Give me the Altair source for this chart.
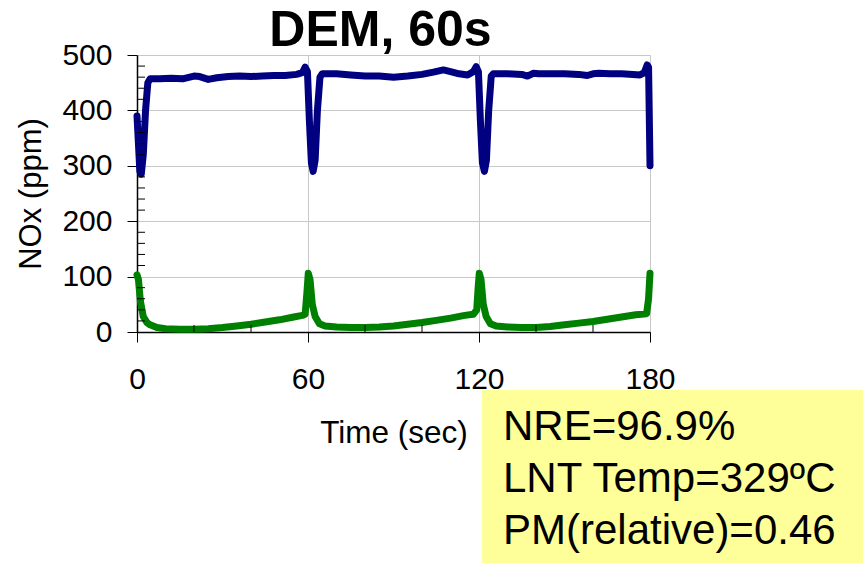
import altair as alt
import pandas as pd

# ---- data ----
in_t = [0, 0.5, 1.0, 1.5, 2.2, 3.0, 3.8, 4.6, 8, 12, 16, 20, 22, 25, 28, 32, 36, 40, 44, 48, 52, 56, 58, 59,
        59.8, 60.5, 61.2, 61.8, 62.5, 63.3, 64.2, 65, 70, 75, 80, 85, 90, 95, 100, 104, 107.5, 110, 113, 116,
        118, 119, 119.8, 120.5, 121.2, 121.9, 122.6, 123.4, 124.3, 125, 130, 135, 137, 139, 141, 145, 150,
        155, 158, 160, 162, 166, 170, 174, 176.5, 178, 179, 179.5, 180]
in_v = [390, 340, 290, 285, 320, 400, 450, 457, 457, 458, 457, 462, 461, 456, 459, 461, 462, 461, 462, 463, 463, 465, 468, 478,
        470, 380, 305, 290, 310, 400, 460, 466, 466, 464, 462, 462, 460, 462, 465, 469, 473, 470, 466, 464,
        470, 479, 470, 380, 305, 290, 310, 400, 462, 466, 466, 465, 462, 467, 466, 466, 466,
        465, 463, 466, 467, 466, 466, 465, 464, 468, 482, 478, 300]

out_t = [0, 0.5, 1.2, 2.2, 3.5, 4.6, 7, 10, 15, 20, 25, 30, 35, 40, 45, 50, 55, 58, 59, 59.6, 60.1, 60.7, 61.5,
         62.5, 64, 66, 70, 75, 80, 85, 90, 95, 100, 105, 110, 115, 118, 119.2, 119.7, 120.1, 120.7, 121.5, 122.5,
         124, 126, 130, 135, 140, 145, 150, 155, 160, 165, 170, 175, 178.8, 179.5, 180]
out_v = [103, 95, 55, 28, 17, 13, 8, 6, 5, 5, 6, 8, 11, 14, 18, 22, 27, 30, 32, 70, 106, 95, 50,
         28, 15, 11, 9, 8, 8, 9, 11, 14, 17, 21, 25, 30, 32, 40, 80, 106, 95, 50, 28,
         15, 11, 9, 8, 8, 10, 13, 16, 19, 23, 27, 31, 33, 60, 106]

series_names = ["NOx in", "NOx out"]
series_colors = ["#000080", "#008000"]

x_major = [0, 60, 120, 180]
y_major = [0, 100, 200, 300, 400, 500]
x_minor = [20, 40, 80, 100, 140, 160]
y_minor = [v for v in range(20, 500, 20) if v % 100 != 0]

chart_title = "DEM, 60s"
annotation = ["NRE=96.9%", "LNT Temp=329\u00baC", "PM(relative)=0.46"]

FONT = "Liberation Sans"

df = pd.concat([
    pd.DataFrame({"t": in_t, "v": in_v, "s": series_names[0]}),
    pd.DataFrame({"t": out_t, "v": out_v, "s": series_names[1]}),
])

xs = alt.Scale(domain=[0, 180], nice=False)
ys = alt.Scale(domain=[0, 500], nice=False)

lines = alt.Chart(df).mark_line(strokeWidth=7, strokeCap="round", strokeJoin="round").encode(
    x=alt.X("t:Q", scale=xs, title="Time (sec)",
            axis=alt.Axis(values=x_major, grid=True, gridColor="#c8c8c8", gridWidth=1,
                          tickSize=10, tickColor="black", tickWidth=1,
                          domainColor="black", domainWidth=1.5,
                          labelFontSize=30, labelFont=FONT, labelColor="black", labelPadding=22,
                          labelFlush=False, labelOverlap=False,
                          titleFontSize=31.5, titleFont=FONT, titleFontWeight="normal", titleColor="black",
                          titleX=256.5, titleY=110, titleBaseline="alphabetic", titleAlign="center")),
    y=alt.Y("v:Q", scale=ys, title="NOx (ppm)",
            axis=alt.Axis(values=y_major, grid=True, gridColor="#c8c8c8", gridWidth=1,
                          tickSize=10, tickColor="black", tickWidth=1,
                          domainColor="black", domainWidth=1.5,
                          labelFontSize=30, labelFont=FONT, labelColor="black", labelPadding=15,
                          labelFlush=False, labelOverlap=False,
                          titleFontSize=31, titleFont=FONT, titleFontWeight="normal", titleColor="black",
                          titleX=-97, titleY=138.5, titleAngle=270, titleBaseline="alphabetic",
                          titleAlign="center")),
    color=alt.Color("s:N", scale=alt.Scale(domain=series_names, range=series_colors), legend=None),
    order="t:Q",
)

yminor = alt.Chart(pd.DataFrame({"v": y_minor})).mark_rule(color="black", strokeWidth=1).encode(
    y=alt.Y("v:Q", scale=ys), x=alt.value(0), x2=alt.value(8))
xminor = alt.Chart(pd.DataFrame({"t": x_minor})).mark_rule(color="black", strokeWidth=1).encode(
    x=alt.X("t:Q", scale=xs), y=alt.value(277), y2=alt.value(270))

title_df = pd.DataFrame({"label": [chart_title]})
title_txt = alt.Chart(title_df).mark_text(align="center", baseline="alphabetic", fontSize=50, font=FONT,
                                          fontWeight="bold", color="black").encode(
    text="label:N", x=alt.value(243.5), y=alt.value(-9))

ann_df = pd.DataFrame({"label": ["\n".join(annotation)]})
box = alt.Chart(ann_df).mark_rect(color="#FFFF99").encode(
    x=alt.value(345), x2=alt.value(726), y=alt.value(335), y2=alt.value(508))
txt = alt.Chart(ann_df).mark_text(align="left", baseline="alphabetic", fontSize=42, font=FONT,
                                  color="black", lineBreak="\n", lineHeight=52).encode(
    text="label:N", x=alt.value(366), y=alt.value(385))

chart = alt.layer(lines, yminor, xminor, box, txt, title_txt).properties(
    width=513, height=277,
    autosize=alt.AutoSizeParams(type="none"),
    padding={"left": 137, "top": 55, "right": 213, "bottom": 236},
).configure_view(stroke="#808080", strokeWidth=2).configure(background="white")

chart.save("out.html", embed_options={"renderer": "svg", "actions": False})
